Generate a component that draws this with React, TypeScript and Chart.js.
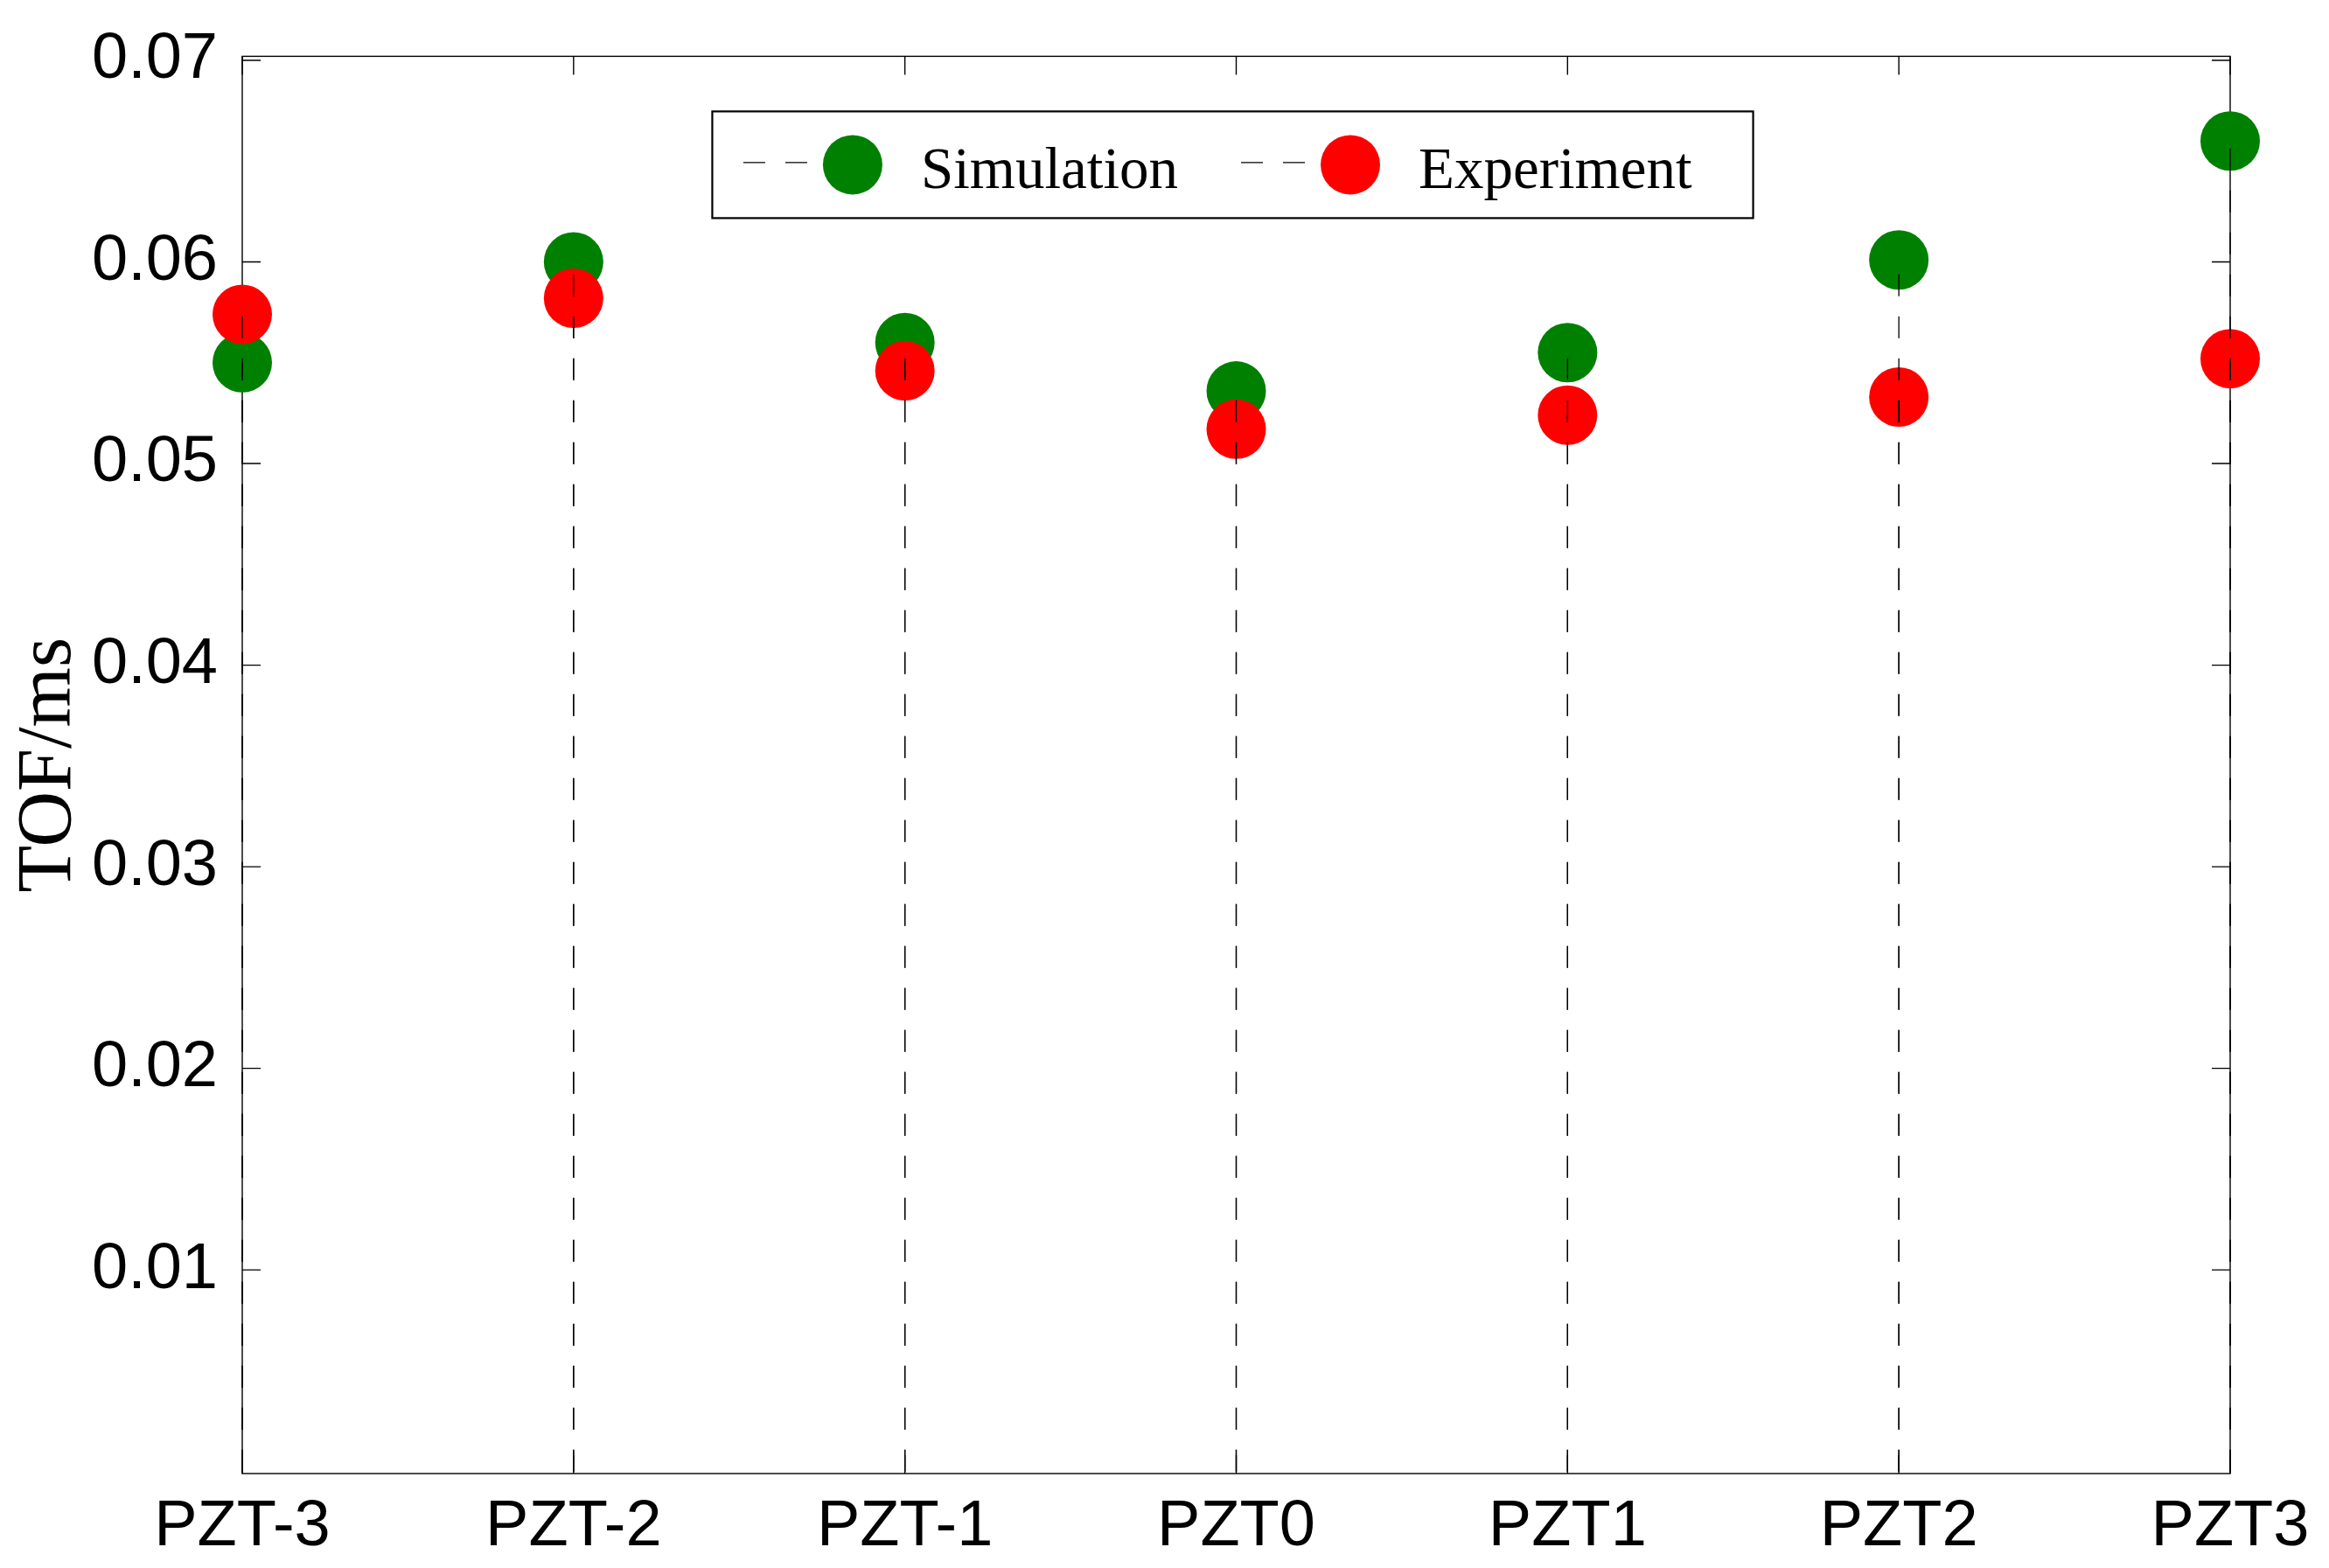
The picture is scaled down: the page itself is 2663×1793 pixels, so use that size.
import React, { useEffect, useRef } from 'react';
import { Chart, registerables } from 'chart.js';

Chart.register(...registerables);

// ---- data ----
const categories = ['PZT-3', 'PZT-2', 'PZT-1', 'PZT0', 'PZT1', 'PZT2', 'PZT3'];
const simulation = [0.055, 0.06, 0.056, 0.0536, 0.0555, 0.0601, 0.066];
const experiment = [0.0574, 0.0582, 0.0546, 0.0517, 0.0524, 0.0533, 0.0552];
const yTicks = [0.01, 0.02, 0.03, 0.04, 0.05, 0.06, 0.07];
const seriesNames = ['Simulation', 'Experiment'];
const seriesColors = ['#008000', '#ff0000'];
const yTitle = 'TOF/ms';

const SANS = "Arial, 'Liberation Sans', sans-serif";
const SERIF = "'Times New Roman', 'Liberation Serif', serif";
const MARKER_R = 34;
const DASH = [25, 23];

const framePlugin = {
  id: 'frame',
  beforeDatasetsDraw(chart: any) {
    const { ctx, chartArea } = chart;
    const { left, right, top, bottom } = chartArea;
    const xs = chart.scales.x;
    const ys = chart.scales.y;
    ctx.save();
    ctx.strokeStyle = '#000';
    ctx.lineWidth = 1.4;
    ctx.setLineDash([]);
    ctx.strokeRect(left, top, right - left, bottom - top);
    const tl = 21;
    ctx.beginPath();
    ys.ticks.forEach((t: any) => {
      const py = ys.getPixelForValue(t.value);
      ctx.moveTo(left, py);
      ctx.lineTo(left + tl, py);
      ctx.moveTo(right, py);
      ctx.lineTo(right - tl, py);
    });
    categories.forEach((_c, i) => {
      const px = xs.getPixelForValue(i);
      ctx.moveTo(px, bottom);
      ctx.lineTo(px, bottom - tl);
      ctx.moveTo(px, top);
      ctx.lineTo(px, top + tl);
    });
    ctx.stroke();
    ctx.restore();
  },
};

const stemPlugin = {
  id: 'stems',
  afterDatasetsDraw(chart: any) {
    const { ctx } = chart;
    const ys = chart.scales.y;
    const base = ys.getPixelForValue(0);
    ctx.save();
    ctx.strokeStyle = '#000';
    ctx.lineWidth = 1.3;
    ctx.setLineDash(DASH);
    chart.data.datasets.forEach((_ds: any, i: number) => {
      const meta = chart.getDatasetMeta(i);
      meta.data.forEach((pt: any) => {
        ctx.beginPath();
        ctx.moveTo(pt.x, base);
        ctx.lineTo(pt.x, pt.y);
        ctx.stroke();
      });
    });
    ctx.restore();
  },
};

const legendPlugin = {
  id: 'boxLegend',
  afterDraw(chart: any) {
    const { ctx, chartArea } = chart;
    const fontSize = 67;
    ctx.save();
    ctx.font = `${fontSize}px ${SERIF}`;
    const datasets = chart.data.datasets;
    const widths = datasets.map((d: any) => ctx.measureText(d.label).width);
    const padL = 35.5;
    const padR = 70;
    const itemGap = 72;
    const textOffset = 203;
    let total = padL + padR;
    widths.forEach((w: number, i: number) => {
      total += textOffset + w + (i > 0 ? itemGap : 0);
    });
    const boxH = 122;
    const cx = (chartArea.left + chartArea.right) / 2 - 4;
    const boxL = cx - total / 2;
    const boxT = chartArea.top + 63;
    ctx.fillStyle = '#fff';
    ctx.fillRect(boxL, boxT, total, boxH);
    ctx.strokeStyle = '#000';
    ctx.lineWidth = 2.2;
    ctx.setLineDash([]);
    ctx.strokeRect(boxL, boxT, total, boxH);
    const midY = boxT + boxH / 2;
    let x = boxL + padL;
    datasets.forEach((d: any, i: number) => {
      // dashed stem sample
      ctx.strokeStyle = '#000';
      ctx.lineWidth = 1.3;
      ctx.beginPath();
      ctx.moveTo(x, midY - 2.5);
      ctx.lineTo(x + 25, midY - 2.5);
      ctx.moveTo(x + 48, midY - 2.5);
      ctx.lineTo(x + 73, midY - 2.5);
      ctx.stroke();
      // marker
      ctx.fillStyle = d.pointBackgroundColor;
      ctx.beginPath();
      ctx.arc(x + 125, midY, MARKER_R, 0, Math.PI * 2);
      ctx.fill();
      // text
      ctx.fillStyle = '#000';
      ctx.textAlign = 'left';
      ctx.textBaseline = 'alphabetic';
      ctx.fillText(d.label, x + textOffset, boxT + 88);
      x += textOffset + widths[i] + itemGap;
    });
    ctx.restore();
  },
};

export default function App() {
  const canvasRef = useRef<HTMLCanvasElement | null>(null);

  useEffect(() => {
    const canvas = canvasRef.current;
    if (!canvas) return;
    const makeDs = (i: number, values: number[], order: number) => ({
      label: seriesNames[i],
      data: values,
      showLine: false,
      pointRadius: MARKER_R,
      pointHoverRadius: MARKER_R,
      pointBorderWidth: 0,
      pointHoverBorderWidth: 0,
      pointBackgroundColor: seriesColors[i],
      backgroundColor: seriesColors[i],
      borderColor: seriesColors[i],
      clip: false as any,
      order,
    });
    const chart = new Chart(canvas, {
      type: 'line',
      data: {
        labels: categories,
        datasets: [makeDs(0, simulation, 1), makeDs(1, experiment, 0)],
      },
      options: {
        animation: false,
        responsive: true,
        maintainAspectRatio: false,
        devicePixelRatio: 1,
        events: [],
        layout: { padding: { top: 60, right: 113, left: 0, bottom: 0 } },
        plugins: {
          legend: { display: false },
          tooltip: { enabled: false },
          title: { display: false },
        },
        scales: {
          x: {
            type: 'category',
            offset: false,
            grid: { display: false },
            border: { display: false },
            ticks: {
              color: '#000',
              font: { family: SANS, size: 74 },
              padding: 9,
              maxRotation: 0,
              autoSkip: false,
            },
            afterFit: (s: any) => {
              s.height = 108;
            },
          },
          y: {
            type: 'linear',
            min: -0.0001,
            max: 0.0702,
            afterBuildTicks: (s: any) => {
              s.ticks = yTicks.map((v) => ({ value: v }));
            },
            grid: { display: false },
            border: { display: false },
            ticks: {
              color: '#000',
              font: { family: SANS, size: 74 },
              padding: 20,
              callback: (v: any) => Number(v).toFixed(2),
            },
            title: {
              display: true,
              text: yTitle,
              color: '#000',
              font: { family: SERIF, size: 88 },
              padding: { top: 4, bottom: 0 },
            },
            afterFit: (s: any) => {
              s.width = 277;
            },
          },
        },
      },
      plugins: [framePlugin, stemPlugin, legendPlugin],
    });
    return () => chart.destroy();
  }, []);

  return (
    <div
      style={{
        position: 'absolute',
        left: 0,
        top: 0,
        width: 2663,
        height: 1793,
        background: '#fff',
      }}
    >
      <canvas ref={canvasRef} />
    </div>
  );
}
